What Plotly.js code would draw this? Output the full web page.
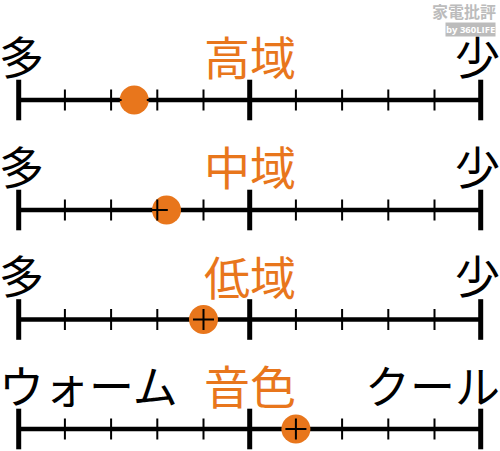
<!DOCTYPE html>
<html>
<head>
<meta charset="utf-8">
<script src="https://cdn.plot.ly/plotly-3.0.1.min.js"></script>
<style>
html, body { margin: 0; padding: 0; background: #fff; }
#chart { width: 500px; height: 451px; }
</style>
</head>
<body>
<div id="chart"></div>
<script>
// scale rows, top to bottom
var rowNames = ["高域", "中域", "低域", "音色"];
var leftLabels = ["多", "多", "多", "ウォーム"];
var rightLabels = ["少", "少", "少", "クール"];
var scores = [2.5, 3.2, 4, 6];
var scaleSteps = [0, 1, 2, 3, 4, 5, 6, 7, 8, 9, 10];
var majorSteps = [0, 5, 10];

// pixel height of each row's axis line (y axis runs in pixels)
var rowY = [100, 210, 319.5, 429];
var orange = "#e8761c";
var font = "Noto Sans CJK JP, sans-serif";

var lineX = [], lineY = [];
var minorX = [], minorY = [];
var majorX = [], majorY = [];
var dotX = [], dotY = [];
var annotations = [];

rowNames.forEach(function(name, i){
    var y = rowY[i];
    lineX.push(scaleSteps[0], scaleSteps[scaleSteps.length - 1], null);
    lineY.push(y, y, null);
    scaleSteps.forEach(function(s){
        if(majorSteps.indexOf(s) >= 0){
            majorX.push(s); majorY.push(y);
        }else{
            minorX.push(s); minorY.push(y);
        }
    });
    dotX.push(scores[i]);
    dotY.push(y);

    annotations.push({
        text: leftLabels[i], x: 0, xref: "paper", xanchor: "left", xshift: -3,
        y: y - 45, yref: "y", yanchor: "middle", showarrow: false,
        font: {family: font, size: 45, color: "#000"}
    });
    annotations.push({
        text: rightLabels[i], x: 1, xref: "paper", xanchor: "right", xshift: 2,
        y: y - 45, yref: "y", yanchor: "middle", showarrow: false,
        font: {family: font, size: 45, color: "#000"}
    });
    annotations.push({
        text: name, x: 5, xref: "x", xanchor: "center",
        y: y - 45, yref: "y", yanchor: "middle", showarrow: false,
        font: {family: font, size: 46, color: orange}
    });
});

// watermark
annotations.push({
    text: "<b>家電批評</b>", x: 1, xref: "paper", xanchor: "right", xshift: -3,
    y: 10.5, yref: "y", yanchor: "middle", showarrow: false, borderpad: 0,
    font: {family: font, size: 16, color: "#bcbcbc"}
});
annotations.push({
    text: "<b>by 360LIFE</b>", x: 1, xref: "paper", xanchor: "right", xshift: -4,
    y: 29.5, yref: "y", yanchor: "middle", showarrow: false,
    bgcolor: "#bcbcbc", borderpad: 0,
    font: {family: "Open Sans, sans-serif", size: 9.5, color: "#fff"}
});

var traces = [
    {
        x: lineX, y: lineY, mode: "lines", hoverinfo: "skip",
        line: {color: "#000", width: 4.5}
    },
    {
        x: dotX, y: dotY, mode: "markers", hoverinfo: "skip",
        marker: {color: orange, size: 29, line: {width: 0}}
    },
    {
        x: minorX, y: minorY, mode: "markers", hoverinfo: "skip",
        marker: {symbol: "cross-thin", size: 15, line: {color: "#000", width: 2}}
    },
    {
        x: majorX, y: majorY, mode: "markers", hoverinfo: "skip",
        marker: {symbol: "line-ns", size: 29, line: {color: "#000", width: 5}}
    }
];

var unit = (480.7 - 18.7) / 10;
var layout = {
    width: 500,
    height: 451,
    margin: {l: 0, r: 0, t: 0, b: 0},
    paper_bgcolor: "#fff",
    plot_bgcolor: "#fff",
    showlegend: false,
    xaxis: {visible: false, range: [-18.7 / unit, 10 + (500 - 480.7) / unit], fixedrange: true},
    yaxis: {visible: false, range: [451, 0], fixedrange: true},
    annotations: annotations
};

Plotly.newPlot("chart", traces, layout, {displayModeBar: false, staticPlot: true});
</script>
</body>
</html>
